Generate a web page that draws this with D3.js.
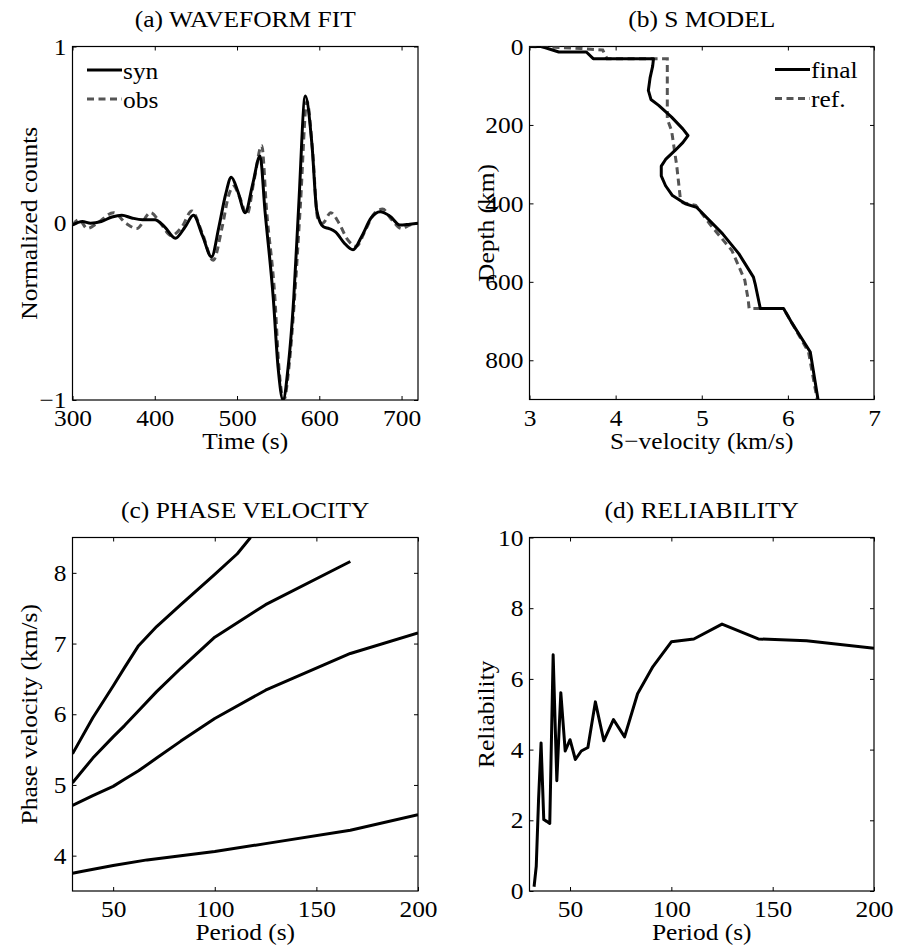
<!DOCTYPE html>
<html>
<head>
<meta charset="utf-8">
<script src="https://cdn.jsdelivr.net/npm/d3@7"></script>
<style>
  body { margin: 0; background: #fff; }
  text { font-family: "Liberation Serif", "Times New Roman", serif; font-size: 24px; fill: #000; }
  .axis path { display: none; }
  .axis line { stroke: #000; stroke-width: 1; }
  .frame { fill: none; stroke: #000; stroke-width: 1.2; }
  .syn { fill: none; stroke: #000; stroke-width: 3; stroke-linejoin: round; }
  .obs { fill: none; stroke: #555; stroke-width: 3; stroke-dasharray: 7,4.5; }
</style>
</head>
<body>
<div id="chart"></div>
<script>
// (a) waveform fit, [time s, normalized counts]
const synWave = [
  [300,-0.01],[312,0.01],[322,0.0],[335,0.01],[348,0.035],[360,0.045],[372,0.03],[385,0.02],[400,0.02],
  [412,-0.02],[425,-0.085],[437,-0.02],[447,0.045],[458,-0.07],[469,-0.19],[478,-0.02],[486,0.16],
  [493,0.26],[501,0.18],[510,0.06],[519,0.22],[528,0.38],[534,0.07],[544,-0.42],[550,-0.82],[556,-1.0],
  [562,-0.82],[569,-0.42],[575,0.1],[583,0.72],[591,0.45],[597,0.07],[605,-0.02],[612,-0.03],[620,-0.05],
  [630,-0.11],[641,-0.15],[652,-0.07],[663,0.03],[674,0.065],[686,0.04],[698,-0.01],[710,-0.005],[720,0.0]
];
const obsWave = [
  [300,-0.01],[308,0.02],[318,-0.03],[330,0.0],[350,0.06],[365,0.0],[378,-0.03],[395,0.06],[407,0.0],
  [420,-0.07],[433,-0.02],[445,0.07],[458,-0.06],[471,-0.21],[482,-0.02],[490,0.16],[496,0.21],[503,0.15],
  [512,0.05],[521,0.25],[530,0.44],[536,0.07],[546,-0.42],[551,-0.82],[557,-1.0],[563,-0.82],[570,-0.42],
  [577,0.1],[585,0.69],[592,0.4],[598,0.03],[604,0.0],[614,0.06],[624,0.0],[634,-0.09],[645,-0.13],
  [656,-0.04],[666,0.05],[677,0.08],[688,0.02],[700,-0.03],[710,-0.01],[720,0.0]
];

// (b) S model, [velocity km/s, depth km]
const finalModel = [
  [3.0,0],[3.14,0],[3.34,14],[3.66,14],[3.74,31],[4.44,31],[4.43,50],[4.40,80],[4.38,112],[4.41,135],
  [4.50,150],[4.65,180],[4.78,210],[4.84,227],[4.78,245],[4.69,265],[4.58,288],[4.53,305],[4.53,330],
  [4.58,355],[4.66,380],[4.81,401],[4.94,410],[5.24,477],[5.43,528],[5.60,588],[5.62,605],[5.68,668],
  [5.95,668],[6.05,706],[6.26,779],[6.35,900]
];
const refModel = [
  [3.0,0],[3.3,2],[3.6,5],[3.85,9],[3.9,31],[4.6,31],[4.6,185],[4.65,215],[4.71,305],[4.75,385],
  [4.78,398],[4.93,405],[5.12,460],[5.35,520],[5.50,596],[5.54,647],[5.55,668],[5.95,668],[6.05,706],
  [6.24,779],[6.34,900]
];

// (c) phase velocity, one [period s, km/s] list per mode
const mode0 = [[30,3.75],[35,3.78],[50,3.86],[66.7,3.94],[83.3,4.0],[100,4.06],[125,4.17],[166.7,4.36],[200,4.58]];
const mode1 = [[30,4.71],[40,4.85],[50,4.98],[55.6,5.08],[62.5,5.2],[71.4,5.38],[83.3,5.62],[100,5.94],[125,6.34],[166.7,6.86],[200,7.15]];
const mode2 = [[30,5.03],[40,5.38],[50,5.68],[55.6,5.84],[62.5,6.05],[71.4,6.32],[83.3,6.65],[100,7.09],[125,7.55],[166.7,8.16]];
const mode3 = [[30,5.44],[40,5.95],[50,6.4],[55.6,6.66],[62.5,6.97],[71.4,7.24],[83.3,7.55],[100,7.98],[111.1,8.27],[117.6,8.5]];

// (d) reliability
const relPeriods = [32.26,33.33,34.48,35.71,37.04,38.46,40,41.67,43.48,45.45,47.62,50,52.63,55.56,58.82,62.5,66.67,71.43,76.92,83.33,90.91,100,111.1,125,142.9,166.7,200];
const relValues = [0.12,0.7,2.6,4.19,2.02,1.97,1.91,6.68,3.12,5.61,3.96,4.28,3.72,3.96,4.06,5.35,4.25,4.85,4.36,5.58,6.35,7.05,7.13,7.55,7.13,7.08,6.87];

const svg = d3.select('#chart')
  .append('svg')
    .attr('width', 897)
    .attr('height', 949);

const fmt = d3.format('d');
let clipId = 0;

function makePanel(p) {
  const x = d3.scaleLinear().domain(p.xDomain).range([p.left, p.right]);
  const y = d3.scaleLinear().domain(p.yDomain).range([p.bottom, p.top]);
  const g = svg.append('g');
  const id = 'clip' + (clipId++);

  g.append('clipPath').attr('id', id)
    .append('rect')
      .attr('x', p.left).attr('y', p.top)
      .attr('width', p.right - p.left).attr('height', p.bottom - p.top);

  g.append('g').attr('class', 'axis')
    .attr('transform', `translate(0, ${p.bottom})`)
    .call(d3.axisBottom(x).tickValues(p.xTicks).tickFormat(fmt).tickSize(-4).tickSizeOuter(0).tickPadding(9));
  g.append('g').attr('class', 'axis')
    .attr('transform', `translate(0, ${p.top})`)
    .call(d3.axisTop(x).tickValues(p.xTicks).tickSize(-4).tickSizeOuter(0).tickFormat(''));
  g.append('g').attr('class', 'axis')
    .attr('transform', `translate(${p.left}, 0)`)
    .call(d3.axisLeft(y).tickValues(p.yTicks).tickFormat(fmt).tickSize(-4).tickSizeOuter(0).tickPadding(6));
  g.append('g').attr('class', 'axis')
    .attr('transform', `translate(${p.right}, 0)`)
    .call(d3.axisRight(y).tickValues(p.yTicks).tickSize(-4).tickSizeOuter(0).tickFormat(''));

  g.append('rect').attr('class', 'frame')
    .attr('x', p.left).attr('y', p.top)
    .attr('width', p.right - p.left).attr('height', p.bottom - p.top);

  const cx = (p.left + p.right) / 2;
  g.append('text')
    .attr('x', cx).attr('y', p.top - 19.5)
    .style('text-anchor', 'middle')
    .text(p.title);
  g.append('text')
    .attr('x', cx).attr('y', p.bottom + 49)
    .style('text-anchor', 'middle')
    .text(p.xLabel);
  g.append('text')
    .attr('transform', `translate(${p.left - 36}, ${(p.top + p.bottom) / 2}) rotate(-90)`)
    .style('text-anchor', 'middle')
    .text(p.yLabel);

  const plot = g.append('g').attr('clip-path', `url(#${id})`);
  return { x, y, g, plot };
}

function legend(g, x0, y0, items) {
  items.forEach((it, i) => {
    const yy = y0 + i * 29;
    g.append('line')
      .attr('class', it.cls)
      .attr('x1', x0).attr('x2', x0 + 35)
      .attr('y1', yy).attr('y2', yy);
    g.append('text')
      .attr('x', x0 + 36).attr('y', yy + 8.5)
      .text(it.label);
  });
}

// (a)
const pa = makePanel({
  left: 72.5, right: 418, top: 46.5, bottom: 400,
  xDomain: [300, 720], yDomain: [-1, 1],
  xTicks: [300, 400, 500, 600, 700], yTicks: [-1, 0, 1],
  title: '(a) WAVEFORM FIT', xLabel: 'Time (s)', yLabel: 'Normalized counts'
});
const waveLine = d3.line().curve(d3.curveMonotoneX)
  .x(d => pa.x(d[0])).y(d => pa.y(d[1]));
pa.plot.append('path').attr('class', 'obs').attr('d', waveLine(obsWave));
pa.plot.append('path').attr('class', 'syn').attr('d', waveLine(synWave));
legend(pa.g, 87, 70, [{ cls: 'syn', label: 'syn' }, { cls: 'obs', label: 'obs' }]);

// (b)
const pb = makePanel({
  left: 529.5, right: 874, top: 46.5, bottom: 399.5,
  xDomain: [3, 7], yDomain: [900, 0],
  xTicks: [3, 4, 5, 6, 7], yTicks: [0, 200, 400, 600, 800],
  title: '(b) S MODEL', xLabel: 'S\u2212velocity (km/s)', yLabel: 'Depth (km)'
});
const modelLine = d3.line().x(d => pb.x(d[0])).y(d => pb.y(d[1]));
pb.plot.append('path').attr('class', 'obs').attr('d', modelLine(refModel));
pb.plot.append('path').attr('class', 'syn').attr('d', modelLine(finalModel));
legend(pb.g, 775, 69.5, [{ cls: 'syn', label: 'final' }, { cls: 'obs', label: 'ref.' }]);

// (c)
const pc = makePanel({
  left: 72.5, right: 418, top: 537.5, bottom: 891,
  xDomain: [30, 200], yDomain: [3.5, 8.5],
  xTicks: [50, 100, 150, 200], yTicks: [4, 5, 6, 7, 8],
  title: '(c) PHASE VELOCITY', xLabel: 'Period (s)', yLabel: 'Phase velocity (km/s)'
});
const phaseLine = d3.line().x(d => pc.x(d[0])).y(d => pc.y(d[1]));
pc.plot.selectAll('.mode')
  .data([mode0, mode1, mode2, mode3])
  .enter().append('path')
    .attr('class', 'syn mode')
    .attr('d', d => phaseLine(d));

// (d)
const pd = makePanel({
  left: 529.5, right: 874, top: 537.5, bottom: 891,
  xDomain: [30, 200], yDomain: [0, 10],
  xTicks: [50, 100, 150, 200], yTicks: [0, 2, 4, 6, 8, 10],
  title: '(d) RELIABILITY', xLabel: 'Period (s)', yLabel: 'Reliability'
});
const relLine = d3.line().x((d, i) => pd.x(relPeriods[i])).y(d => pd.y(d));
pd.plot.append('path').attr('class', 'syn').attr('d', relLine(relValues));

// the reference type is a little wider than plain Times
svg.selectAll('text').each(function() {
  const w = this.getComputedTextLength();
  if (w > 0) {
    this.setAttribute('textLength', w * 1.06);
    this.setAttribute('lengthAdjust', 'spacingAndGlyphs');
  }
});
</script>
</body>
</html>
